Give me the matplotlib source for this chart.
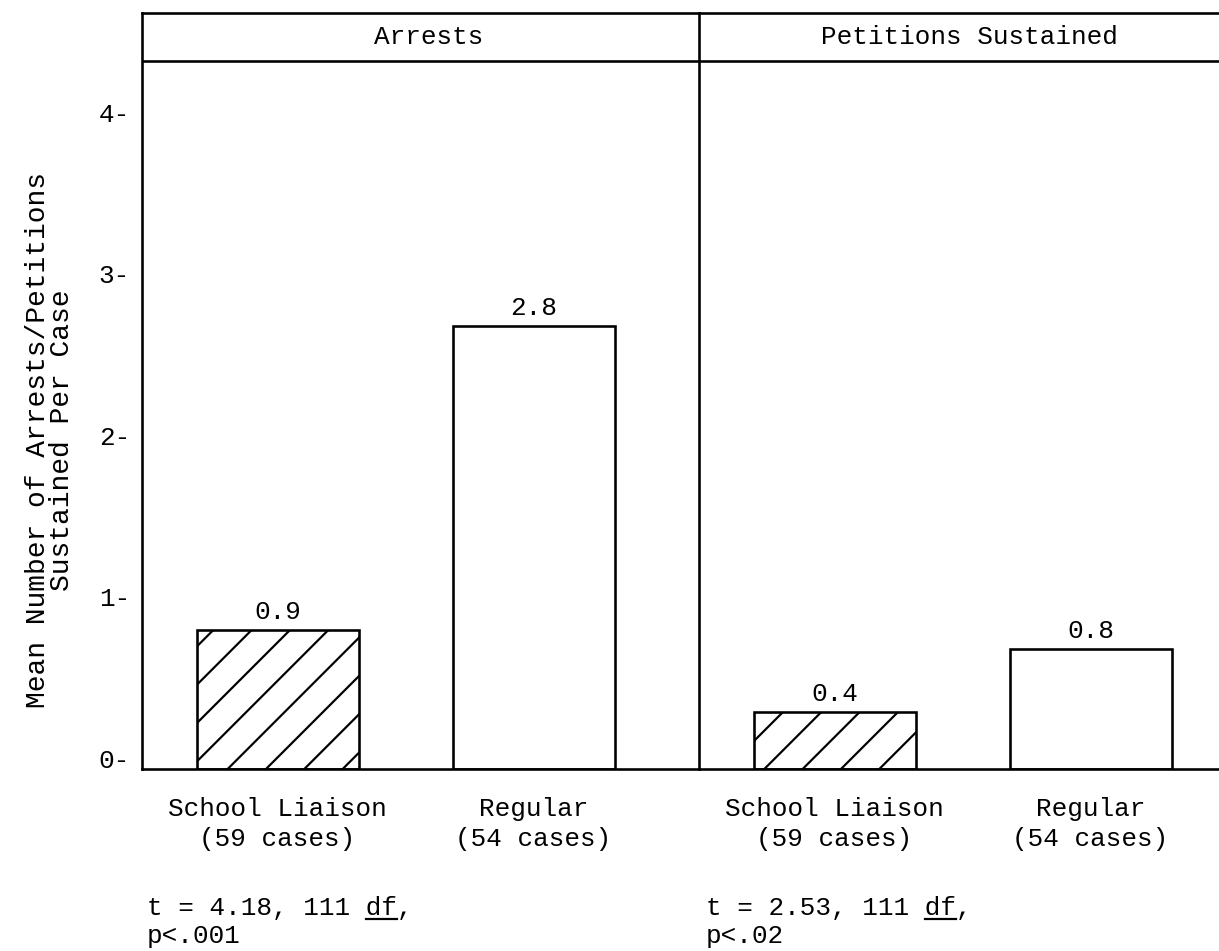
import matplotlib

matplotlib.use("Agg")
import matplotlib.pyplot as plt
import matplotlib.transforms as mtransforms
from matplotlib.lines import Line2D

# sizes below are given in output pixels; the high dpi keeps the hatch sparse
DPI = 230
W, H = 1219, 951


def px(n):
    return n * 72 / DPI


plt.rcParams["font.family"] = ["Liberation Mono", "DejaVu Sans Mono"]
plt.rcParams["hatch.linewidth"] = px(2.2)

# data
panels = ["Arrests", "Petitions Sustained"]
groups = ["School Liaison\n(59 cases)", "Regular\n(54 cases)"]
arrests_means = [0.86, 2.74]
petitions_means = [0.35, 0.74]
arrests_labels = ["0.9", "2.8"]
petitions_labels = ["0.4", "0.8"]
stats_first = ["t = 4.18, 111 df,", "t = 2.53, 111 df,"]
stats_second = ["p<.001", "p<.02"]
y_ticks = [0, 1, 2, 3, 4]
hatches = ["//", ""]

FS = px(26)
LW = px(2.6)
UNIT = 161.5  # pixels per y unit
BAR_STEP = 256  # pixels between bar centres

fig = plt.figure(figsize=(W / DPI, H / DPI), dpi=DPI)
fig.patch.set_facecolor("white")
ax1 = fig.add_axes([142 / W, 182 / H, 557 / W, 756 / H])
ax2 = fig.add_axes([699 / W, 182 / H, 520 / W, 756 / H])

ymax = 756 / UNIT
header_y = (769 - 61) / UNIT
x_left = -135.5 / BAR_STEP

stat_texts = []
for ax, title, means, labels, s1, s2, title_x, stat_x in [
    (ax1, panels[0], arrests_means, arrests_labels, stats_first[0], stats_second[0], 0.515, 0.009),
    (ax2, panels[1], petitions_means, petitions_labels, stats_first[1], stats_second[1], 0.52, 0.013),
]:
    width_px = ax.get_position().width * W
    ax.set_xlim(x_left, x_left + width_px / BAR_STEP)
    ax.set_ylim(0, ymax)
    ax.set_xticks([])
    ax.set_yticks([])
    ax.spines["right"].set_visible(False)
    for side in ["left", "top", "bottom"]:
        ax.spines[side].set_linewidth(LW)
    ax.axhline(header_y, color="black", linewidth=LW)

    xs = list(range(len(means)))
    ax.bar(xs, means, width=162 / BAR_STEP, color="white", edgecolor="black",
           linewidth=LW, hatch=hatches, zorder=2)

    for x, h, lab, grp in zip(xs, means, labels, groups):
        ax.annotate(lab, xy=(x, h), xytext=(0, 6), textcoords="offset pixels",
                    ha="center", va="bottom", fontsize=FS)
        ax.annotate(grp, xy=(x, 0), xytext=(0, -55), textcoords="offset pixels",
                    ha="center", va="center", fontsize=FS, linespacing=1.3,
                    annotation_clip=False)

    title_trans = mtransforms.blended_transform_factory(ax.transAxes, ax.transData)
    ax.text(title_x, (header_y + ymax) / 2, title, transform=title_trans,
            ha="center", va="center", fontsize=FS)

    t1 = ax.annotate(s1, xy=(stat_x, 0), xycoords="axes fraction", xytext=(0, -136),
                     textcoords="offset pixels", ha="left", va="center_baseline",
                     fontsize=FS, annotation_clip=False)
    ax.annotate(s2, xy=(stat_x, 0), xycoords="axes fraction", xytext=(0, -164),
                textcoords="offset pixels", ha="left", va="center_baseline",
                fontsize=FS, annotation_clip=False)
    stat_texts.append((t1, s1))

# typed tick labels such as "4-" sit a little above their value
tick_offset = mtransforms.ScaledTranslation(-12 / DPI, 8 / DPI, fig.dpi_scale_trans)
tick_trans = mtransforms.blended_transform_factory(ax1.transAxes, ax1.transData) + tick_offset
for v in y_ticks:
    ax1.text(0, v, f"{v}-", transform=tick_trans, ha="right", va="center", fontsize=FS)

fig.text(50 / W, 1 - 440 / H, "Mean Number of Arrests/Petitions\nSustained Per Case",
         rotation=90, ha="center", va="center", fontsize=px(28), linespacing=0.9)

fig.canvas.draw()
renderer = fig.canvas.get_renderer()
for t, s in stat_texts:
    bb = t.get_window_extent(renderer)
    char_w = bb.width / len(s)
    i = s.index("df")
    x0 = bb.x0 + char_w * i
    y0 = bb.y0 + 1
    fig.add_artist(Line2D([x0, x0 + 2 * char_w], [y0, y0], transform=None,
                          color="black", linewidth=px(2.2)))

fig.savefig("out.png", dpi=DPI, facecolor="white")
plt.close(fig)
